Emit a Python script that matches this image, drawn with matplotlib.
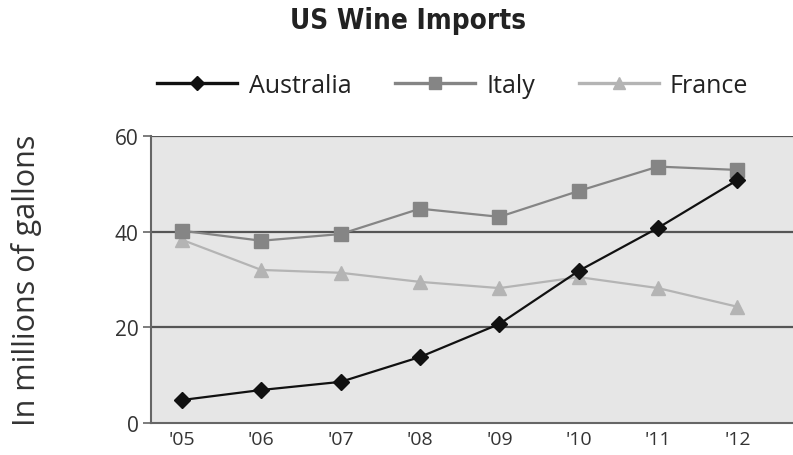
import matplotlib
matplotlib.use("Agg")
import matplotlib.pyplot as plt
from matplotlib.lines import Line2D

years = ["'05", "'06", "'07", "'08", "'09", "'10", "'11", "'12"]
australia = [4.8, 6.9, 8.6, 13.8, 20.7, 31.8, 40.8, 50.8]
italy = [40.2, 38.1, 39.5, 44.8, 43.1, 48.5, 53.6, 52.9]
france = [38.3, 32.0, 31.4, 29.5, 28.2, 30.5, 28.2, 24.3]
yticks = [0, 20, 40, 60]

plt.rcParams['font.family'] = ['Open Sans', 'DejaVu Sans']

fig = plt.figure(figsize=(7.93, 4.56), dpi=100)
ax = fig.add_axes([0.1904, 0.0702, 0.8096, 0.6294])
ax.set_facecolor('#e6e6e6')

x = list(range(len(years)))
ax.plot(x, france, color='#b4b4b4', lw=1.6, marker='^', ms=10, mec='#b4b4b4', mfc='#b4b4b4', zorder=3)
ax.plot(x, italy, color='#858585', lw=1.6, marker='s', ms=10, mec='#858585', mfc='#858585', zorder=4)
ax.plot(x, australia, color='#111111', lw=1.6, marker='D', ms=8, mec='#111111', mfc='#111111', zorder=5)

ax.set_xlim(-0.39, 7.7)
ax.set_ylim(0, 60)
ax.set_yticks(yticks)
ax.set_yticklabels([str(v) for v in yticks], fontsize=15, color='#333333')
ax.set_xticks(x)
ax.set_xticklabels(years, fontsize=14, color='#333333')
ax.tick_params(axis='x', length=0, pad=5)
ax.tick_params(axis='y', length=6, width=1.2, color='#666666', pad=3)
for v in [20, 40, 60]:
    ax.axhline(v, color='#555555', lw=1.6, zorder=2)
for s in ['top', 'right']:
    ax.spines[s].set_visible(False)
for s in ['left', 'bottom']:
    ax.spines[s].set_color('#666666')
    ax.spines[s].set_linewidth(1.5)
ax.set_ylabel('In millions of gallons', fontsize=22, color='#333333', labelpad=52)

fig.text(0.515, 0.955, 'US Wine Imports', ha='center', va='center', fontsize=20,
         fontweight='bold', fontstretch='condensed', family=['DejaVu Sans'], color='#222222')

handles = [
    Line2D([], [], color='#111111', lw=2.4, marker='D', ms=7, mfc='#111111', mec='#111111'),
    Line2D([], [], color='#858585', lw=2.4, marker='s', ms=9, mfc='#858585', mec='#858585'),
    Line2D([], [], color='#b4b4b4', lw=2.4, marker='^', ms=9, mfc='#b4b4b4', mec='#b4b4b4'),
]
fig.legend(handles, ['Australia', 'Italy', 'France'], loc='center', bbox_to_anchor=(0.571, 0.81),
           ncol=3, frameon=False, fontsize=18, handlelength=3.2, columnspacing=1.75, handletextpad=0.45,
           labelcolor='#222222')

fig.savefig('out.png', dpi=100)
